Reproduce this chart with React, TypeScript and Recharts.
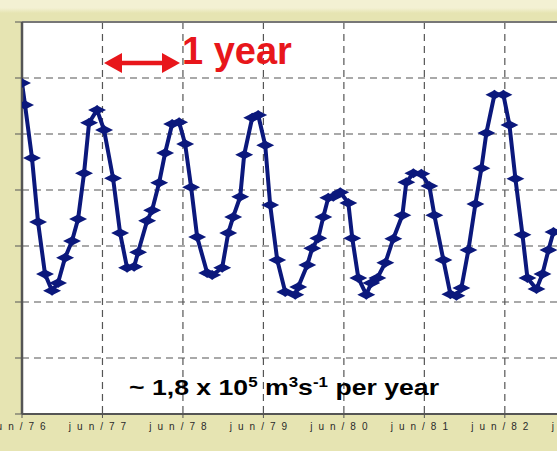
import { LineChart, Line, XAxis, YAxis, CartesianGrid, ReferenceLine } from "recharts";

// months since jun/76
const months = [
  0, 0.45, 1.49, 2.39, 3.43, 4.48, 5.37, 6.42, 7.46, 8.36, 9.25, 10.0,
  11.19, 12.24, 13.58, 14.63, 15.67, 16.72, 17.31, 18.66, 19.4, 20.45, 21.34, 22.39,
  23.43, 24.33, 25.22, 26.12, 27.61, 28.36, 29.85, 30.75, 31.49, 32.54, 33.13, 34.33,
  35.22, 36.27, 37.01, 38.06, 39.25, 40.75, 41.19, 42.54, 43.28, 44.18, 44.93, 45.67,
  46.42, 47.46, 48.66, 49.25, 50.15, 51.34, 52.09, 52.99, 54.18, 55.37, 56.72, 57.31,
  58.36, 59.55, 60.75, 61.49, 62.84, 63.88, 64.78, 65.52, 66.57, 67.61, 68.51, 69.25,
  70.45, 71.79, 72.69, 73.58, 74.63, 75.37, 76.72, 77.61, 78.51, 79.25,
];

// discharge, in grid units
const discharge = [
  5.91, 5.52, 4.57, 3.43, 2.5, 2.2, 2.34, 2.79, 3.09, 3.48, 4.3, 5.2,
  5.43, 5.07, 4.21, 3.23, 2.61, 2.63, 2.89, 3.45, 3.64, 4.13, 4.66, 5.18,
  5.21, 4.82, 4.05, 3.16, 2.52, 2.48, 2.61, 3.23, 3.52, 3.88, 4.63, 5.29,
  5.34, 4.8, 3.73, 2.75, 2.18, 2.13, 2.27, 2.66, 2.96, 3.14, 3.52, 3.86,
  3.88, 3.96, 3.77, 3.14, 2.43, 2.13, 2.34, 2.43, 2.7, 3.13, 3.55, 4.14,
  4.3, 4.29, 4.07, 3.55, 2.75, 2.14, 2.11, 2.25, 2.93, 3.75, 4.39, 5.02,
  5.7, 5.7, 5.16, 4.2, 3.2, 2.43, 2.23, 2.5, 2.93, 3.25,
];

const tickLabels = ["jun/76", "jun/77", "jun/78", "jun/79", "jun/80", "jun/81", "jun/82", "jun/83"];
const xTicks = tickLabels.map((_, i) => i * 12);
const yTicks = [0, 1, 2, 3, 4, 5, 6, 7];

const data = months.map((m, i) => ({ m, v: discharge[i] }));

const NAVY = "#0b187c";
const RED = "#e8161b";
const FONT = "Arial, 'Liberation Sans', sans-serif";

function Marker(props: any) {
  const { cx, cy } = props;
  if (cx == null || cy == null) return <g />;
  return (
    <path
      d={`M${cx - 9},${cy} L${cx - 2},${cy - 3.5} L${cx},${cy - 5} L${cx + 2},${cy - 3.5} L${cx + 9},${cy} L${cx + 2},${cy + 3.5} L${cx},${cy + 5} L${cx - 2},${cy + 3.5} Z`}
      fill={NAVY}
    />
  );
}

function MonthTick(props: any) {
  const { x, y, payload } = props;
  return (
    <text
      x={x - 2}
      y={y + 10}
      textAnchor="middle"
      fontSize={10}
      fill="#2a2a2a"
      letterSpacing={6}
      fontFamily={FONT}
    >
      {tickLabels[Math.round(payload.value / 12)]}
    </text>
  );
}

export default function App() {
  return (
    <div
      style={{
        position: "fixed",
        left: 0,
        top: 0,
        width: 557,
        height: 451,
        overflow: "hidden",
        background: "linear-gradient(#f3f1d3 0px, #f3f1d3 8px, #e6e4b2 13px)",
      }}
    >
      <LineChart
        width={600}
        height={451}
        data={data}
        margin={{ top: 22, right: 8, left: 8, bottom: 7 }}
      >
        <CartesianGrid
          stroke="#555"
          strokeDasharray="7 5"
          strokeWidth={1.2}
          fill="#fff"
        />
        <XAxis
          type="number"
          dataKey="m"
          domain={[0, 85]}
          ticks={xTicks}
          interval={0}
          allowDataOverflow
          height={30}
          tickSize={4}
          axisLine={{ stroke: "#555", strokeWidth: 2 }}
          tickLine={{ stroke: "#555" }}
          tick={<MonthTick />}
        />
        <YAxis
          domain={[0, 7]}
          ticks={yTicks}
          width={14}
          tickSize={7}
          axisLine={{ stroke: "#555", strokeWidth: 2.5 }}
          tickLine={{ stroke: "#555" }}
          tick={() => <g />}
        />
        <ReferenceLine y={7} stroke="#777" strokeWidth={2} />
        <Line
          type="linear"
          dataKey="v"
          stroke={NAVY}
          strokeWidth={4}
          dot={(p: any) => <Marker key={p.index} {...p} />}
          activeDot={false}
          isAnimationActive={false}
        />
      </LineChart>
      <svg
        width={557}
        height={451}
        style={{ position: "absolute", left: 0, top: 0, pointerEvents: "none" }}
      >
        <line x1={118} y1={63} x2={166} y2={63} stroke={RED} strokeWidth={4.5} />
        <polygon points="104,63 122,53 122,73" fill={RED} />
        <polygon points="180,63 162,53 162,73" fill={RED} />
        <text x={182} y={64} fontSize={38} fontWeight="bold" fill={RED} fontFamily={FONT}>
          1 year
        </text>
        <text
          x={129}
          y={395}
          fontSize={22}
          fontWeight="bold"
          fill="#000"
          fontFamily={FONT}
          textLength={310}
          lengthAdjust="spacingAndGlyphs"
        >
          ~ 1,8 x 10
          <tspan fontSize={14} dy={-8}>5</tspan>
          <tspan dy={8}> m</tspan>
          <tspan fontSize={14} dy={-8}>3</tspan>
          <tspan dy={8}>s</tspan>
          <tspan fontSize={14} dy={-8}>-1</tspan>
          <tspan dy={8}> per year</tspan>
        </text>
      </svg>
    </div>
  );
}
